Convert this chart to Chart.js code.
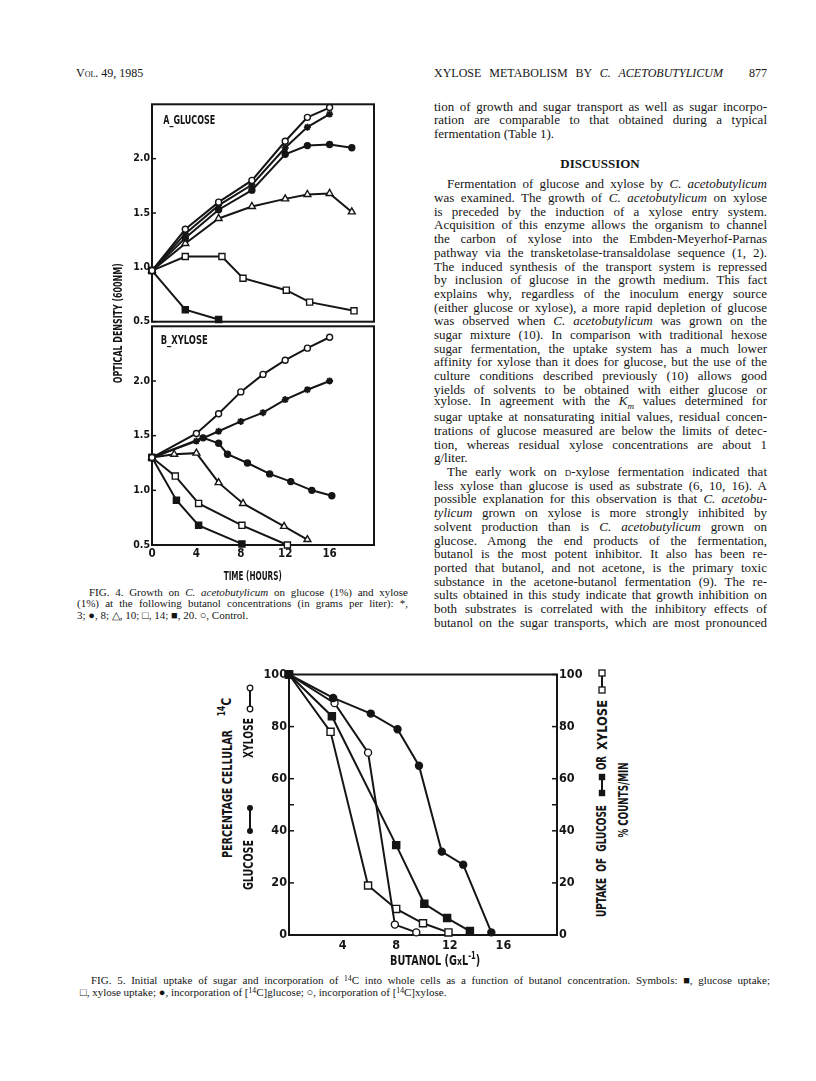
<!DOCTYPE html>
<html><head><meta charset="utf-8">
<script src="https://cdn.jsdelivr.net/npm/chart.js@4.4.1/dist/chart.umd.min.js"></script>
<style>
html,body{margin:0;padding:0;background:#fff;}
body{width:816px;height:1081px;position:relative;overflow:hidden;font-family:"Liberation Serif","Times New Roman",serif;color:#151515;}
.abs{position:absolute;white-space:nowrap;}
.bt{font-size:13px;line-height:16px;}
.cap{font-size:11px;line-height:13px;}
.hd{font-size:12px;line-height:14px;}
.lab{font-family:"DejaVu Sans Condensed","Liberation Sans Narrow","DejaVu Sans",sans-serif;line-height:1;font-weight:bold;transform-origin:center center;}
.sc{font-variant:small-caps;}
canvas{position:absolute;}
sup{font-size:70%;vertical-align:top;position:relative;top:-2px;}
</style></head><body>
<canvas id="c4a" width="282" height="234" style="left:100px;top:96px"></canvas>
<canvas id="c4b" width="282" height="247" style="left:100px;top:318px"></canvas>
<canvas id="c5" width="340" height="290" style="left:250px;top:665px"></canvas>
<script>
// ---------- DATA ----------
// Fig. 4A glucose: [time (h), optical density]
const glcControl = [[0,0.97],[3,1.35],[6,1.60],[9,1.80],[12,2.16],[14,2.38],[16,2.47]];
const glcBut3    = [[0,0.97],[3,1.31],[6,1.57],[9,1.76],[12,2.10],[14,2.29],[16,2.41]];
const glcBut8    = [[0,0.97],[3,1.27],[6,1.53],[9,1.71],[12,2.04],[14,2.12],[16,2.13],[18,2.10]];
const glcBut10   = [[0,0.97],[3,1.22],[6,1.45],[9,1.56],[12,1.63],[14,1.67],[16,1.68],[18,1.51]];
const glcBut14   = [[0,0.97],[3,1.10],[6.3,1.10],[8.2,0.90],[12.1,0.79],[14.2,0.68],[18.2,0.60]];
const glcBut20   = [[0,0.97],[3,0.61],[6,0.52]];
// Fig. 4B xylose
const xylControl = [[0,1.30],[4,1.52],[6,1.70],[8,1.90],[10,2.06],[12,2.19],[14,2.30],[16,2.40]];
const xylBut3    = [[0,1.30],[4,1.45],[6,1.54],[8,1.63],[10,1.71],[12,1.83],[14,1.92],[16,2.00]];
const xylBut8    = [[0,1.30],[4.6,1.48],[6,1.43],[6.8,1.33],[8.6,1.25],[10.6,1.15],[12.5,1.08],[14.4,1.00],[16.2,0.95]];
const xylBut10   = [[0,1.30],[2,1.33],[4,1.34],[6,1.07],[8.2,0.88],[11.9,0.67],[14,0.55]];
const xylBut14   = [[0,1.30],[2.1,1.13],[4.2,0.88],[8.1,0.68],[12.2,0.50]];
const xylBut20   = [[0,1.30],[2.2,0.91],[4.2,0.68],[8.1,0.51]];
const odTicks    = [0.5,1.0,1.5,2.0];
const hourTicks  = [0,4,8,12,16];
// Fig. 5: [butanol g/L, percent]
const glcIncorp  = [[0,100],[3.3,91],[6.1,85],[8.1,79],[9.7,65],[11.4,32],[13.0,27],[15.1,1]];
const xylIncorp  = [[0,100],[3.4,89],[5.9,70],[7.9,4],[9.5,1]];
const glcUptake  = [[0,100],[3.2,84],[8.0,34.5],[10.1,12],[11.8,6.5],[13.5,1.5]];
const xylUptake  = [[0,100],[3.1,78],[5.9,19],[8.0,10],[10.0,4.5],[11.9,1]];
const pctTicks   = [0,20,40,60,80,100];
const pctMinor   = [50];
const butTicks   = [4,8,12,16];

// ---------- CHART HELPERS ----------
const FAM = '"DejaVu Sans Condensed","Liberation Sans Narrow","DejaVu Sans",sans-serif';
Chart.defaults.font.family = FAM;
Chart.defaults.color = '#151515';
const INK = '#151515';

const framePlugin = {
  id:'frame',
  beforeDatasetsDraw(chart, args, opts){
    const ctx = chart.ctx, a = chart.chartArea;
    ctx.save();
    ctx.strokeStyle = INK; ctx.lineWidth = 2;
    ctx.strokeRect(a.left, a.top, a.right-a.left, a.bottom-a.top);
    ctx.lineWidth = 1.5;
    (opts.inTicks||[]).forEach(t=>{
      const s = chart.scales[t.id];
      t.values.forEach(v=>{
        const p = s.getPixelForValue(v);
        ctx.beginPath();
        if(t.side==='left'){ctx.moveTo(a.left,p);ctx.lineTo(a.left+t.len,p);}
        else if(t.side==='right'){ctx.moveTo(a.right,p);ctx.lineTo(a.right-t.len,p);}
        else {ctx.moveTo(p,a.bottom);ctx.lineTo(p,a.bottom-t.len);}
        ctx.stroke();
      });
    });
    ctx.restore();
  }
};

function yAxis(pos,min,max,ticks,width,size,fmt){
  return {type:'linear',position:pos,min:min,max:max,
    afterBuildTicks:s=>{s.ticks=ticks.map(v=>({value:v}));},
    afterFit:s=>{s.width=width;},
    grid:{display:false,drawTicks:false},border:{display:false},
    ticks:{padding:2,font:{size:size,weight:'bold'},color:INK,callback:fmt}};
}
function xAxis(min,max,ticks,height,size,show,pad){
  return {type:'linear',position:'bottom',min:min,max:max,display:show,
    afterBuildTicks:s=>{s.ticks=ticks.map(v=>({value:v}));},
    afterFit:s=>{s.height=height;},
    grid:{display:false,drawTicks:false},border:{display:false},
    ticks:{padding:pad,font:{size:size,weight:'bold'},color:INK,maxRotation:0,callback:v=>String(v)}};
}
const STY = {
  oc:{ps:'circle',fill:false}, fc:{ps:'circle',fill:true},
  st:{ps:'star',fill:true}, ot:{ps:'triangle',fill:false},
  os:{ps:'rect',fill:false}, fs:{ps:'rect',fill:true}
};
function ds(data,k,r,axis){
  const s = STY[k];
  return {data:data,borderColor:INK,borderWidth:2,tension:0,clip:false,
    pointStyle:s.ps,pointRadius:r,pointHoverRadius:r,
    pointBackgroundColor:s.fill?INK:'#fff',pointBorderColor:INK,
    pointBorderWidth:k==='st'?1.8:1.4,yAxisID:axis||'y'};
}
function baseOpts(padding,scales,frameOpts){
  return {responsive:false,animation:false,devicePixelRatio:1,
    layout:{padding:padding},
    plugins:{legend:{display:false},tooltip:{enabled:false},frame:frameOpts},
    scales:scales};
}
const od = v=>Number(v).toFixed(1);

new Chart(document.getElementById('c4a'),{
  type:'line',
  data:{datasets:[ds(glcControl,'oc',3),ds(glcBut3,'st',3.5),ds(glcBut8,'fc',3),
    ds(glcBut10,'ot',4),ds(glcBut14,'os',4.3),ds(glcBut20,'fs',4.3)]},
  options:baseOpts({top:6,right:8,bottom:6,left:0},
    {x:xAxis(0,20,hourTicks,0,11,false,2), y:yAxis('left',0.5,2.5,odTicks,52,10.5,od)},
    {inTicks:[{id:'y',side:'left',len:4,values:odTicks}]}),
  plugins:[framePlugin]
});
new Chart(document.getElementById('c4b'),{
  type:'line',
  data:{datasets:[ds(xylControl,'oc',3),ds(xylBut3,'st',3.5),ds(xylBut8,'fc',3),
    ds(xylBut10,'ot',4),ds(xylBut14,'os',4.3),ds(xylBut20,'fs',4.3)]},
  options:baseOpts({top:6,right:8,bottom:0,left:0},
    {x:xAxis(0,20,hourTicks,20,11.5,true,2), y:yAxis('left',0.5,2.5,odTicks,52,10.5,od)},
    {inTicks:[{id:'y',side:'left',len:4,values:odTicks}]}),
  plugins:[framePlugin]
});
new Chart(document.getElementById('c5'),{
  type:'line',
  data:{datasets:[ds(glcIncorp,'fc',3.5),ds(xylIncorp,'oc',3.5),
    ds(glcUptake,'fs',5,'y2'),ds(xylUptake,'os',5,'y2')]},
  options:baseOpts({top:7,right:0,bottom:0,left:0},
    {x:xAxis(0,20,butTicks,20,12.5,true,3),
     y:yAxis('left',0,100,pctTicks,39,12.5,v=>String(v)),
     y2:yAxis('right',0,100,pctTicks,33,12.5,v=>String(v))},
    {inTicks:[{id:'y',side:'left',len:5,values:pctTicks.concat(pctMinor)},
              {id:'y2',side:'right',len:5,values:pctTicks.concat(pctMinor)}]}),
  plugins:[framePlugin]
});

// ---------- TEXT HELPERS ----------
function put(html,x,yc,cls,right){
  const d=document.createElement('div');
  d.className='abs '+cls; d.innerHTML=html; document.body.appendChild(d);
  let r=d.getBoundingClientRect();
  if(right){
    const n=(d.textContent.match(/ /g)||[]).length;
    if(n>0) d.style.wordSpacing=((right-x-r.width)/n)+'px';
    r=d.getBoundingClientRect();
  }
  d.style.left=x+'px'; d.style.top=(yc-r.height/2)+'px';
  return d;
}
// label: scaled along the text direction to span `len` px, glyphs stretched by `sy`
function lab(html,cx,cy,len,size,rotate,sy){
  const d=document.createElement('div');
  d.className='abs lab'; d.style.fontSize=size+'px'; d.innerHTML=html;
  document.body.appendChild(d);
  const r=d.getBoundingClientRect();
  const sx = len ? len/r.width : 1;
  d.style.left=(cx-r.width/2)+'px'; d.style.top=(cy-r.height/2)+'px';
  d.style.transform=(rotate?'rotate(-90deg) ':'')+'scale('+sx+','+(sy||1.15)+')';
  return d;
}
function sym(cx,y1,y2,kind){
  const top=Math.min(y1,y2)-5, h=Math.abs(y2-y1)+10;
  const mk=(y)=>{
    if(kind==='fc') return `<circle cx="6" cy="${y}" r="3" fill="${INK}"/>`;
    if(kind==='oc') return `<circle cx="6" cy="${y}" r="2.8" fill="#fff" stroke="${INK}" stroke-width="1.3"/>`;
    if(kind==='fs') return `<rect x="2.8" y="${y-3.2}" width="6.4" height="6.4" fill="${INK}"/>`;
    return `<rect x="3" y="${y-3}" width="6" height="6" fill="#fff" stroke="${INK}" stroke-width="1.3"/>`;
  };
  const d=document.createElement('div');
  d.className='abs'; d.style.left=(cx-6)+'px'; d.style.top=top+'px';
  d.innerHTML=`<svg width="12" height="${h}"><line x1="6" y1="5" x2="6" y2="${h-5}" stroke="${INK}" stroke-width="2"/>${mk(5)}${mk(h-5)}</svg>`;
  document.body.appendChild(d);
}

// ---------- PAGE HEADER ----------
put('V<span class="sc">ol</span>. 49, 1985',76,73,'hd');
put('XYLOSE METABOLISM BY <i>C. ACETOBUTYLICUM</i>',434,73,'hd',723);
put('877',749,73,'hd');

// ---------- FIG 4 LABELS ----------
lab('A_GLUCOSE',189,121,52,10,false);
lab('B_XYLOSE',184,341,47,10,false);
lab('OPTICAL DENSITY (600NM)',118,323,120,10.5,true);
lab('TIME (HOURS)',253,575,58,10.5,false);

// ---------- FIG 4 CAPTION ----------
put('FIG. 4. Growth on <i>C. acetobutylicum</i> on glucose (1%) and xylose',89,592,'cap',408);
put('(1%) at the following butanol concentrations (in grams per liter): *,',77,603.5,'cap',408);
put('3; ●, 8; △, 10; □, 14; ■, 20. ○, Control.',77,615,'cap');

// ---------- FIG 5 LABELS ----------
lab('PERCENTAGE CELLULAR',228,794,128,12,true);
lab('<sup>14</sup>C',226,707,0,12,true);
lab('GLUCOSE',248,865,50,12,true);
sym(250,808,831,'fc');
lab('XYLOSE',248,738,40,12,true);
sym(250,688,709,'oc');
lab('UPTAKE &nbsp;OF &nbsp;GLUCOSE',602,861,112,12,true);
sym(602,777,793,'fs');
lab('OR',602,763,14,12,true);
lab('XYLOSE',602,725,50,12,true);
sym(602,673,690,'os');
lab('% COUNTS/MIN',623,800,75,12,true);
lab('BUTANOL (G<span style="font-size:80%">x</span>L<sup>-1</sup>)',435,960,90,12,false);

// ---------- FIG 5 CAPTION ----------
put('FIG. 5. Initial uptake of sugar and incorporation of <sup>14</sup>C into whole cells as a function of butanol concentration. Symbols: ■, glucose uptake;',91,980,'cap',770);
put('□, xylose uptake; ●, incorporation of [<sup>14</sup>C]glucose; ○, incorporation of [<sup>14</sup>C]xylose.',80,992.5,'cap');

// ---------- RIGHT COLUMN TEXT ----------
const L=434, R=767, IND=447, LH=13.7;
const intro = [
  ['tion of growth and sugar transport as well as sugar incorpo-',0,1],
  ['ration are comparable to that obtained during a typical',0,1],
  ['fermentation (Table 1).',0,0]
];
intro.forEach((l,i)=>put(l[0],l[1]?IND:L,106.7+i*LH,'bt',l[2]?R:0));
const hd=put('<b>DISCUSSION</b>',0,164,'bt');
hd.style.left=(600-hd.getBoundingClientRect().width/2)+'px';
const CA='<i>C. acetobutylicum</i>';
const para = [
  ['Fermentation of glucose and xylose by '+CA,1,1],
  ['was examined. The growth of '+CA+' on xylose',0,1],
  ['is preceded by the induction of a xylose entry system.',0,1],
  ['Acquisition of this enzyme allows the organism to channel',0,1],
  ['the carbon of xylose into the Embden-Meyerhof-Parnas',0,1],
  ['pathway via the transketolase-transaldolase sequence (1, 2).',0,1],
  ['The induced synthesis of the transport system is repressed',0,1],
  ['by inclusion of glucose in the growth medium. This fact',0,1],
  ['explains why, regardless of the inoculum energy source',0,1],
  ['(either glucose or xylose), a more rapid depletion of glucose',0,1],
  ['was observed when '+CA+' was grown on the',0,1],
  ['sugar mixture (10). In comparison with traditional hexose',0,1],
  ['sugar fermentation, the uptake system has a much lower',0,1],
  ['affinity for xylose than it does for glucose, but the use of the',0,1],
  ['culture conditions described previously (10) allows good',0,1],
  ['yields of solvents to be obtained with either glucose or',0,1],
  ['xylose. In agreement with the <i>K<sub style="font-size:70%">m</sub></i> values determined for',0,1],
  ['sugar uptake at nonsaturating initial values, residual concen-',0,1],
  ['trations of glucose measured are below the limits of detec-',0,1],
  ['tion, whereas residual xylose concentrations are about 1',0,1],
  ['g/liter.',0,0],
  ['The early work on <span class="sc">d</span>-xylose fermentation indicated that',1,1],
  ['less xylose than glucose is used as substrate (6, 10, 16). A',0,1],
  ['possible explanation for this observation is that <i>C. acetobu-</i>',0,1],
  ['<i>tylicum</i> grown on xylose is more strongly inhibited by',0,1],
  ['solvent production than is '+CA+' grown on',0,1],
  ['glucose. Among the end products of the fermentation,',0,1],
  ['butanol is the most potent inhibitor. It also has been re-',0,1],
  ['ported that butanol, and not acetone, is the primary toxic',0,1],
  ['substance in the acetone-butanol fermentation (9). The re-',0,1],
  ['sults obtained in this study indicate that growth inhibition on',0,1],
  ['both substrates is correlated with the inhibitory effects of',0,1],
  ['butanol on the sugar transports, which are most pronounced',0,1]
];
para.forEach((l,i)=>put(l[0],l[1]?IND:L,184.3+i*LH,'bt',l[2]?R:0));
</script>
</body></html>
